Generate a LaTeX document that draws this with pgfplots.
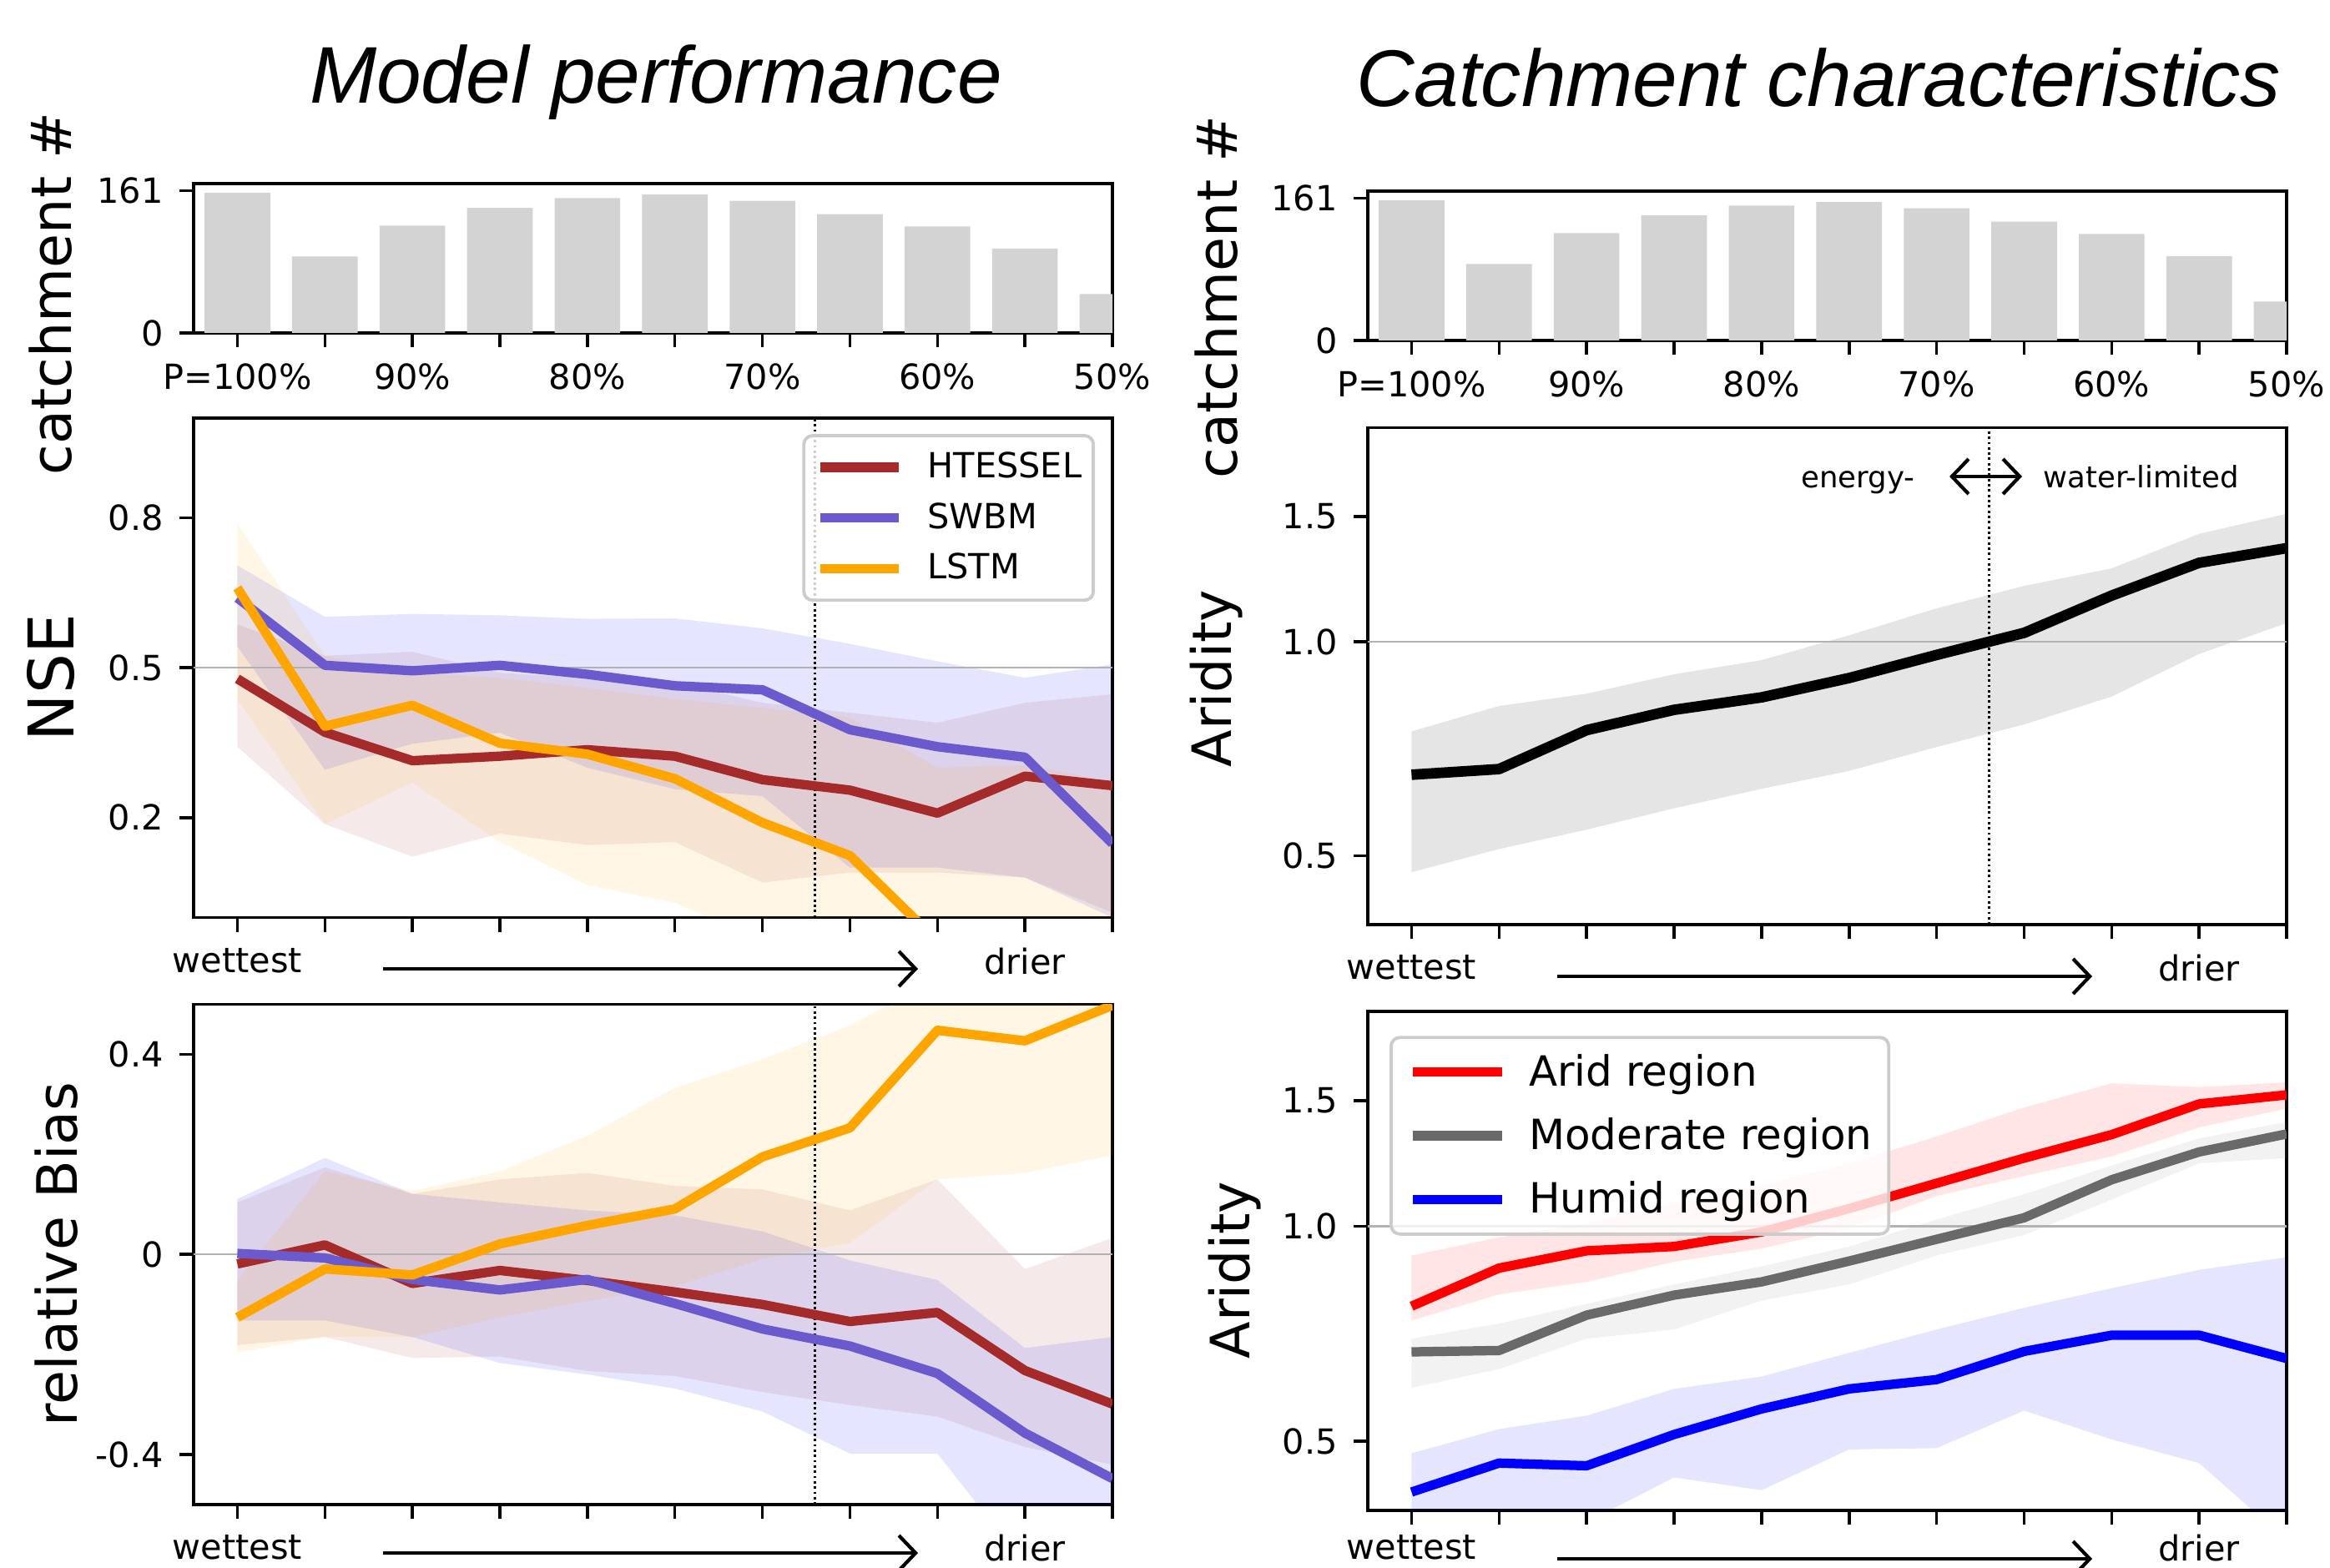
\documentclass[border=0pt]{standalone}
\usepackage{fontspec}
\setmainfont{DejaVu Sans}
\newfontfamily\titlefont{Liberation Sans}
\usepackage{pgfplots}
\pgfplotsset{compat=1.18}
\usetikzlibrary{arrows.meta}

\definecolor{htessel}{HTML}{A52A2A}
\definecolor{swbm}{HTML}{6A5ACD}
\definecolor{lstm}{HTML}{FFA500}
\definecolor{barfill}{HTML}{D3D3D3}
\definecolor{dimgray}{HTML}{696969}

\newcommand{\tickfont}{\fontsize{11.8}{14}\selectfont}
\newcommand{\labfont}{\fontsize{19}{23}\selectfont}

\pgfplotsset{
  panel/.style={
    scale only axis, width=11.01cm, anchor=south west,
    xmin=-0.5, xmax=10, enlargelimits=false,
    axis line style={line width=1.1pt},
    tick align=outside, xtick pos=left, ytick pos=left,
    major tick length=0.17cm,
    tick style={black, line width=1pt},
    xtick={0,1,...,10}, minor tick num=0,
    tick label style={font=\tickfont},
    xticklabel shift=0.07cm, yticklabel shift=0.07cm,
  },
  slope/.style={panel, xticklabels={wettest,{},{},{},{},{},{},{},{},drier,{}}},
  bars/.style={panel, height=1.79cm, ymin=0, ymax=169, ytick={0,161}, yticklabels={0,161},
    xticklabels={P=100\%,{},90\%,{},80\%,{},70\%,{},60\%,{},50\%}},
  spread/.style={draw=none, fill=#1, fill opacity=0.1, forget plot},
  curve/.style={color=#1, line width=3.2pt, line join=round},
}

\begin{document}
\begin{tikzpicture}

% ---------------- left column ----------------
\begin{axis}[bars, at={(2.32cm,14.79cm)}]
\addplot[ybar, bar width=0.75, fill=barfill, draw=none] coordinates
  {(0,158.5)(1,86.5)(2,121.5)(3,141.5)(4,152.5)(5,156.5)(6,149.5)(7,134.5)(8,120.5)(9,95.5)(10,44)};
\end{axis}

\begin{axis}[slope, at={(2.32cm,7.785cm)}, height=5.985cm,
  ymin=0, ymax=1, ytick={0.2,0.5,0.8}, yticklabels={0.2,0.5,0.8},
  legend style={at={(0.981,0.968)}, anchor=north east, draw=black!20, line width=1.1pt,
    rounded corners=3pt, fill=white, fill opacity=0.8, draw opacity=1, text opacity=1,
    font=\tickfont, inner xsep=0.14cm, inner ysep=0.2cm, row sep=0.245cm,
    nodes={inner sep=0pt}, cells={anchor=west},
    /tikz/every odd column/.append style={column sep=0.29cm}},
  legend image code/.code={\draw[#1] (0cm,0cm) -- (0.94cm,0cm);}]
% spread bands
\addplot[spread=htessel] coordinates
  {(0,0.587)(1,0.524)(2,0.532)(3,0.49)(4,0.48)(5,0.47)(6,0.43)(7,0.41)(8,0.39)(9,0.43)(10,0.447)
   (10,0.01)(9,0.08)(8,0.09)(7,0.09)(6,0.07)(5,0.151)(4,0.145)(3,0.168)(2,0.122)(1,0.187)(0,0.342)};
\addplot[spread=blue] coordinates
  {(0,0.705)(1,0.602)(2,0.608)(3,0.605)(4,0.598)(5,0.599)(6,0.579)(7,0.548)(8,0.513)(9,0.480)(10,0.507)
   (10,0.0)(9,0.08)(8,0.10)(7,0.10)(6,0.243)(5,0.257)(4,0.30)(3,0.37)(2,0.348)(1,0.296)(0,0.543)};
\addplot[spread=lstm] coordinates
  {(0,0.789)(1,0.524)(2,0.49)(3,0.48)(4,0.46)(5,0.438)(6,0.42)(7,0.40)(8,0.30)(9,0.306)(10,0.272)
   (10,-0.1)(9,-0.05)(8,-0.05)(7,-0.05)(6,-0.05)(5,0.03)(4,0.065)(3,0.151)(2,0.27)(1,0.187)(0,0.436)};
\draw[gray!60, line width=0.6pt] (axis cs:-0.5,0.5) -- (axis cs:10,0.5);
\draw[black, line width=0.8pt, densely dotted] (axis cs:6.6,0) -- (axis cs:6.6,1);
\addplot[curve=htessel] coordinates
  {(0,0.478)(1,0.371)(2,0.314)(3,0.323)(4,0.336)(5,0.323)(6,0.276)(7,0.255)(8,0.209)(9,0.283)(10,0.264)};
\addlegendentry{HTESSEL}
\addplot[curve=swbm] coordinates
  {(0,0.640)(1,0.505)(2,0.494)(3,0.505)(4,0.487)(5,0.464)(6,0.456)(7,0.376)(8,0.342)(9,0.321)(10,0.148)};
\addlegendentry{SWBM}
\addplot[curve=lstm] coordinates
  {(0,0.660)(1,0.383)(2,0.425)(3,0.349)(4,0.327)(5,0.278)(6,0.190)(7,0.124)(8,-0.047)(9,-0.12)(10,-0.2)};
\addlegendentry{LSTM}
\end{axis}

\begin{axis}[slope, at={(2.32cm,0.75cm)}, height=5.995cm,
  ymin=-0.5, ymax=0.5, ytick={-0.4,0,0.4}, yticklabels={-0.4,0,0.4}]
\addplot[spread=htessel] coordinates
  {(0,0.104)(1,0.174)(2,0.121)(3,0.150)(4,0.163)(5,0.137)(6,0.130)(7,0.088)(8,0.15)(9,-0.029)(10,0.033)
   (10,-0.42)(9,-0.385)(8,-0.324)(7,-0.301)(6,-0.275)(5,-0.243)(4,-0.233)(3,-0.204)(2,-0.207)(1,-0.165)(0,-0.181)};
\addplot[spread=blue] coordinates
  {(0,0.111)(1,0.193)(2,0.121)(3,0.104)(4,0.088)(5,0.078)(6,0.046)(7,-0.012)(8,-0.051)(9,-0.187)(10,-0.165)
   (10,-0.65)(9,-0.62)(8,-0.398)(7,-0.398)(6,-0.314)(5,-0.268)(4,-0.24)(3,-0.217)(2,-0.165)(1,-0.132)(0,-0.132)};
\addplot[spread=lstm] coordinates
  {(0,-0.051)(1,0.166)(2,0.127)(3,0.166)(4,0.237)(5,0.333)(6,0.39)(7,0.458)(8,0.55)(9,0.55)(10,0.55)
   (10,0.198)(9,0.163)(8,0.15)(7,0.023)(6,-0.009)(5,-0.064)(4,-0.093)(3,-0.126)(2,-0.165)(1,-0.165)(0,-0.196)};
\draw[gray!60, line width=0.6pt] (axis cs:-0.5,0) -- (axis cs:10,0);
\draw[black, line width=0.8pt, densely dotted] (axis cs:6.6,-0.5) -- (axis cs:6.6,0.5);
\addplot[curve=htessel] coordinates
  {(0,-0.019)(1,0.019)(2,-0.058)(3,-0.032)(4,-0.052)(5,-0.075)(6,-0.10)(7,-0.134)(8,-0.116)(9,-0.232)(10,-0.299)};
\addplot[curve=swbm] coordinates
  {(0,0.002)(1,-0.007)(2,-0.05)(3,-0.071)(4,-0.05)(5,-0.098)(6,-0.149)(7,-0.183)(8,-0.238)(9,-0.357)(10,-0.448)};
\addplot[curve=lstm] coordinates
  {(0,-0.126)(1,-0.029)(2,-0.041)(3,0.021)(4,0.058)(5,0.091)(6,0.195)(7,0.253)(8,0.448)(9,0.427)(10,0.498)};
\end{axis}

% ---------------- right column ----------------
\begin{axis}[bars, at={(16.39cm,14.70cm)}]
\addplot[ybar, bar width=0.75, fill=barfill, draw=none] coordinates
  {(0,158.5)(1,86.5)(2,121.5)(3,141.5)(4,152.5)(5,156.5)(6,149.5)(7,134.5)(8,120.5)(9,95.5)(10,44)};
\end{axis}

\begin{axis}[slope, ymode=log, ymin=0.4, ymax=2, ytick={0.5,1,1.5},
  yticklabels={0.5,1.0,1.5}, yminorticks=false,
  at={(16.39cm,7.70cm)}, height=5.955cm]
\addplot[spread=black] coordinates
  {(0,0.748)(1,0.812)(2,0.845)(3,0.900)(4,0.942)(5,1.021)(6,1.114)(7,1.198)(8,1.268)(9,1.418)(10,1.513)
   (10,1.062)(9,0.961)(8,0.837)(7,0.765)(6,0.711)(5,0.658)(4,0.621)(3,0.583)(2,0.544)(1,0.511)(0,0.474)};
\draw[gray!60, line width=0.6pt] (axis cs:-0.5,1) -- (axis cs:10,1);
\draw[black, line width=0.8pt, densely dotted] (axis cs:6.6,0.4) -- (axis cs:6.6,2);
\addplot[curve=black, line width=3.6pt] coordinates
  {(0,0.650)(1,0.662)(2,0.751)(3,0.802)(4,0.835)(5,0.889)(6,0.958)(7,1.029)(8,1.161)(9,1.291)(10,1.354)};
\end{axis}

\begin{axis}[slope, ymode=log, ymin=0.4, ymax=2, ytick={0.5,1,1.5},
  yticklabels={0.5,1.0,1.5}, yminorticks=false,
  at={(16.39cm,0.68cm)}, height=5.98cm, xticklabel shift=0.0cm,
  legend style={at={(0.0236,0.951)}, anchor=north west, draw=black!20, line width=1.1pt,
    rounded corners=3pt, fill=white, fill opacity=0.8, draw opacity=1, text opacity=1,
    font=\fontsize{14.2}{17}\selectfont, inner xsep=0.2cm, inner ysep=0.2cm, row sep=0.33cm,
    nodes={inner sep=0pt}, cells={anchor=west},
    /tikz/every odd column/.append style={column sep=0.27cm}},
  legend image code/.code={\draw[#1] (0cm,0cm) -- (1.07cm,0cm);}]
\addplot[spread=red] coordinates
  {(0,0.910)(1,0.965)(2,1.011)(3,1.077)(4,1.142)(5,1.225)(6,1.336)(7,1.467)(8,1.586)(9,1.567)(10,1.591)
   (10,1.462)(9,1.376)(8,1.253)(7,1.176)(6,1.103)(5,0.993)(4,0.931)(3,0.892)(2,0.836)(1,0.803)(0,0.738)};
\addplot[spread=gray] coordinates
  {(0,0.696)(1,0.731)(2,0.779)(3,0.829)(4,0.879)(5,0.937)(6,1.022)(7,1.109)(8,1.217)(9,1.328)(10,1.40)
   (10,1.246)(9,1.225)(8,1.09)(7,0.972)(6,0.910)(5,0.829)(4,0.787)(3,0.717)(2,0.696)(1,0.631)(0,0.594)};
\addplot[spread=blue] coordinates
  {(0,0.481)(1,0.520)(2,0.543)(3,0.592)(4,0.616)(5,0.665)(6,0.717)(7,0.769)(8,0.819)(9,0.869)(10,0.905)
   (10,0.363)(9,0.466)(8,0.503)(7,0.552)(6,0.489)(5,0.487)(4,0.427)(3,0.445)(2,0.385)(1,0.37)(0,0.36)};
\draw[gray!60, line width=0.6pt] (axis cs:-0.5,1) -- (axis cs:10,1);
\addplot[curve=red] coordinates
  {(0,0.773)(1,0.874)(2,0.924)(3,0.937)(4,0.982)(5,1.059)(6,1.149)(7,1.246)(8,1.344)(9,1.484)(10,1.528)};
\addlegendentry{Arid region}
\addplot[curve=dimgray] coordinates
  {(0,0.667)(1,0.670)(2,0.751)(3,0.801)(4,0.836)(5,0.894)(6,0.959)(7,1.028)(8,1.162)(9,1.271)(10,1.347)};
\addlegendentry{Moderate region}
\addplot[curve=blue] coordinates
  {(0,0.4245)(1,0.466)(2,0.462)(3,0.511)(4,0.555)(5,0.592)(6,0.610)(7,0.668)(8,0.704)(9,0.704)(10,0.653)};
\addlegendentry{Humid region}
\end{axis}

% ---------------- titles, labels, arrows ----------------
\node[anchor=base, font=\titlefont\itshape\fontsize{27.4}{32}\selectfont] at (7.86,17.54) {Model performance};
\node[anchor=base, font=\titlefont\itshape\fontsize{27.4}{32}\selectfont] at (21.79,17.50) {Catchment characteristics};

\node[rotate=90, font=\labfont] at (0.605,15.26) {catchment \#};
\node[rotate=90, font=\fontsize{21.5}{25}\selectfont] at (0.605,10.66) {NSE};
\node[rotate=90, font=\labfont] at (0.68,3.75) {relative Bias};
\node[rotate=90, font=\labfont] at (14.58,15.22) {catchment \#};
\node[rotate=90, font=\fontsize{18.5}{22}\selectfont] at (14.58,10.65) {Aridity};
\node[rotate=90, font=\fontsize{18.5}{22}\selectfont] at (14.80,3.56) {Aridity};

\tikzset{wd/.style={line width=1.2pt, -{Straight Barb[length=0.2cm, width=0.42cm, line width=1.2pt]}}}
\draw[wd] (4.59,7.17) -- (11.00,7.17);
\draw[wd] (4.59,0.17) -- (11.00,0.17);
\draw[wd] (18.66,7.08) -- (25.07,7.08);
\draw[wd] (18.66,0.10) -- (25.07,0.10);

\node[anchor=base east, inner sep=0pt, font=\fontsize{10.1}{12}\selectfont] at (22.95,12.93) {energy-};
\node[anchor=base west, inner sep=0pt, font=\fontsize{10.1}{12}\selectfont] at (24.48,12.93) {water-limited};
\draw[line width=1.2pt, {Straight Barb[length=0.2cm, width=0.42cm, line width=1.2pt]}-{Straight Barb[length=0.2cm, width=0.42cm, line width=1.2pt]}] (23.36,13.07) -- (24.23,13.07);

\pgfresetboundingbox
\path[use as bounding box] (0,0) rectangle (27.92,18.78);
\end{tikzpicture}
\end{document}
